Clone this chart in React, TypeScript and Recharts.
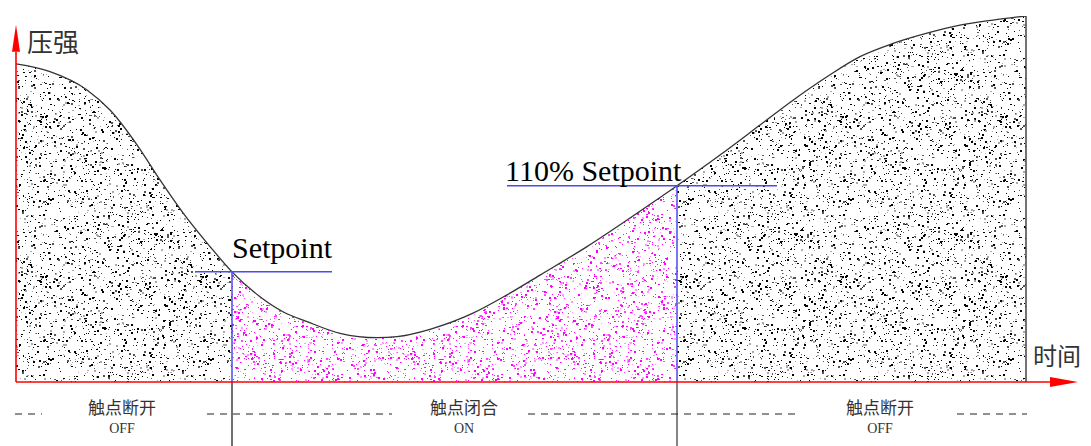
import React from 'react';
import { ComposedChart, Area, Line, XAxis, YAxis, ReferenceLine, ReferenceDot } from 'recharts';

// time (x) and pressure (y)
const timeValues = [0, 3.4, 7.1, 9.4, 12.1, 14.4, 16.7, 19.4, 21.6, 24.4, 26.7, 29.1, 32.4, 36.1, 38.1, 41.4, 45.7, 49.1, 52.4, 57.1, 62.1, 66.1, 70.4, 74.4, 77.7, 81.1, 84.4, 87.7, 91.1, 94.4, 97.7, 101.0];
const pressureValues = [86.9, 84.8, 79.8, 74.3, 64.8, 55.2, 46.2, 37.0, 30.1, 23.3, 19.2, 16.5, 13.3, 12.1, 12.4, 14.4, 18.8, 23.8, 29.2, 37.0, 46.1, 53.6, 62.0, 70.2, 77.0, 83.4, 88.9, 92.5, 95.3, 97.5, 98.9, 100.0];

const setpointTime = 21.6;
const setpointPressure = 30.1;
const highTime = 66.1;
const highPressure = 53.6;
const endTime = 101.0;

const setpointLineRange = [17.9, 31.6];
const highLineRange = [49.1, 76.1];

const contactLabels = ['触点断开', '触点闭合', '触点断开'];
const stateLabels = ['OFF', 'ON', 'OFF'];
const labelTimes = [10.6, 44.8, 86.4];
const dashStarts = [-0.1, 19.1, 51.2, 94.1];
const dashEnds = [2.6, 37.6, 78.1, 101.1];

const data = timeValues.map((t, i) => ({
  t,
  p: pressureValues[i],
  pm: t >= setpointTime - 1e-9 && t <= highTime + 1e-9 ? pressureValues[i] : null,
}));

// speckle texture for the fills (deterministic, purely decorative)
function makeSpeckles(count: number, size: number, colors: string[], seed: number) {
  const out: { x: number; y: number; w: number; h: number; c: string }[] = [];
  let s = seed;
  const next = () => {
    s = (s * 1103515245 + 12345) % 2147483648;
    return s / 2147483648;
  };
  for (let i = 0; i < count; i++) {
    const x = Math.floor(next() * size);
    const y = Math.floor(next() * size);
    const r = next();
    const w = r < 0.6 ? 1 : 2;
    const h = r < 0.75 ? 1 : 2;
    const cr = next();
    const c = cr < 0.55 ? colors[0] : cr < 0.8 ? colors[1] : colors[2];
    out.push({ x, y, w, h, c });
  }
  return out;
}
const TILE = 160;
const blackSpeckles = makeSpeckles(1500, TILE, ['#000000', '#555555', '#aaaaaa'], 12345);
const pinkSpeckles = makeSpeckles(1700, TILE, ['#ff00ff', '#ff44ff', '#ff99ff'], 777);

const zh = "'Noto Sans CJK SC', 'Noto Sans', sans-serif";
const serif = "'Times New Roman', 'Liberation Serif', 'DejaVu Serif', serif";
const BLUE = '#4a4af0';
const RED = '#ff0000';

const textShape = (txt: string, opts: any) => (props: any) => (
  <text
    x={props.cx + (opts.dx || 0)}
    y={props.cy}
    fontSize={opts.size}
    fontFamily={opts.family}
    fill={opts.fill || '#222'}
    textAnchor={opts.anchor || 'start'}
    dominantBaseline={opts.baseline || 'auto'}
  >
    {txt}
  </text>
);

const upArrow = (props: any) => (
  <polygon points={`${props.cx},${props.cy - 27} ${props.cx - 4},${props.cy} ${props.cx + 4},${props.cy}`} fill={RED} />
);
const rightArrow = (props: any) => (
  <polygon points={`${props.cx + 28},${props.cy} ${props.cx},${props.cy - 5} ${props.cx},${props.cy + 5}`} fill={RED} />
);

export default function App() {
  return (
    <div style={{ position: 'absolute', left: 0, top: 0, width: 1091, height: 446, background: '#fff' }}>
      <ComposedChart
        width={1091}
        height={446}
        data={data}
        margin={{ top: 16, right: 13, bottom: 64, left: 16 }}
      >
        <defs>
          <pattern id="blackDots" patternUnits="userSpaceOnUse" width={TILE} height={TILE}>
            <rect x={0} y={0} width={TILE} height={TILE} fill="#ffffff" />
            {blackSpeckles.map((d, i) => (
              <rect key={i} x={d.x} y={d.y} width={d.w} height={d.h} fill={d.c} />
            ))}
          </pattern>
          <pattern id="pinkDots" patternUnits="userSpaceOnUse" width={TILE} height={TILE}>
            <rect x={0} y={0} width={TILE} height={TILE} fill="#ffffff" />
            {pinkSpeckles.map((d, i) => (
              <rect key={i} x={d.x} y={d.y} width={d.w} height={d.h} fill={d.c} />
            ))}
          </pattern>
        </defs>
        <XAxis type="number" dataKey="t" domain={[0, 106.2]} allowDataOverflow hide />
        <YAxis type="number" domain={[0, 100]} allowDataOverflow hide />
        <Area
          type="monotone"
          dataKey="p"
          stroke="none"
          fill="url(#blackDots)"
          fillOpacity={1}
          isAnimationActive={false}
          dot={false}
          activeDot={false}
        />
        <Area
          type="monotone"
          dataKey="pm"
          stroke="none"
          fill="url(#pinkDots)"
          fillOpacity={1}
          isAnimationActive={false}
          dot={false}
          activeDot={false}
        />
        <Line
          type="monotone"
          dataKey="p"
          stroke="#333333"
          strokeWidth={1.3}
          dot={false}
          activeDot={false}
          isAnimationActive={false}
        />
        {/* right closing edge */}
        <ReferenceLine segment={[{ x: endTime, y: 0 }, { x: endTime, y: 100 }]} stroke="#444" strokeWidth={1.5} ifOverflow="visible" />

        {/* setpoint markers */}
        <ReferenceLine segment={[{ x: setpointLineRange[0], y: setpointPressure }, { x: setpointLineRange[1], y: setpointPressure }]} stroke={BLUE} strokeWidth={1.5} ifOverflow="visible" />
        <ReferenceLine segment={[{ x: setpointTime, y: 0 }, { x: setpointTime, y: setpointPressure }]} stroke={BLUE} strokeWidth={1.5} ifOverflow="visible" />
        <ReferenceLine segment={[{ x: highLineRange[0], y: highPressure }, { x: highLineRange[1], y: highPressure }]} stroke={BLUE} strokeWidth={1.5} ifOverflow="visible" />
        <ReferenceLine segment={[{ x: highTime, y: 0 }, { x: highTime, y: highPressure }]} stroke={BLUE} strokeWidth={1.5} ifOverflow="visible" />

        {/* lines below the axis */}
        <ReferenceLine segment={[{ x: setpointTime, y: 0 }, { x: setpointTime, y: -17.5 }]} stroke="#222" strokeWidth={1.3} ifOverflow="visible" />
        <ReferenceLine segment={[{ x: highTime, y: 0 }, { x: highTime, y: -17.5 }]} stroke="#444" strokeWidth={1.3} ifOverflow="visible" />

        {dashStarts.map((s, i) => (
          <ReferenceLine
            key={'d' + i}
            segment={[{ x: s, y: -8.74 }, { x: dashEnds[i], y: -8.74 }]}
            stroke="#222"
            strokeWidth={1.1}
            strokeDasharray="7 6"
            ifOverflow="visible"
          />
        ))}

        {/* axes */}
        <ReferenceLine segment={[{ x: 0, y: 0 }, { x: 104.4, y: 0 }]} stroke={RED} strokeWidth={1.6} ifOverflow="visible" />
        <ReferenceLine segment={[{ x: 0, y: 0 }, { x: 0, y: 90.2 }]} stroke={RED} strokeWidth={1.6} ifOverflow="visible" />
        <ReferenceDot x={0} y={90.2} r={1} ifOverflow="visible" shape={upArrow} />
        <ReferenceDot x={103.4} y={0} r={1} ifOverflow="visible" shape={rightArrow} />

        <ReferenceDot x={1.1} y={93.4} r={1} ifOverflow="visible" shape={textShape('压强', { size: 26, family: zh, baseline: 'central', fill: '#333' })} />
        <ReferenceDot x={101.7} y={7.4} r={1} ifOverflow="visible" shape={textShape('时间', { size: 24, family: zh, baseline: 'central', fill: '#333' })} />

        <ReferenceDot x={setpointTime} y={33.9} r={1} ifOverflow="visible" shape={textShape('Setpoint', { size: 30, family: serif, fill: '#000' })} />
        <ReferenceDot x={48.9} y={54.9} r={1} ifOverflow="visible" shape={textShape('110% Setpoint', { size: 30, family: serif, fill: '#000' })} />

        {labelTimes.map((t, i) => (
          <ReferenceDot key={'c' + i} x={t} y={-6.8} r={1} ifOverflow="visible" shape={textShape(contactLabels[i], { size: 17, family: zh, anchor: 'middle', baseline: 'central', fill: '#333' })} />
        ))}
        {labelTimes.map((t, i) => (
          <ReferenceDot key={'s' + i} x={t} y={-12.6} r={1} ifOverflow="visible" shape={textShape(stateLabels[i], { size: 14, family: serif, anchor: 'middle', baseline: 'central', fill: '#333' })} />
        ))}
      </ComposedChart>
    </div>
  );
}
